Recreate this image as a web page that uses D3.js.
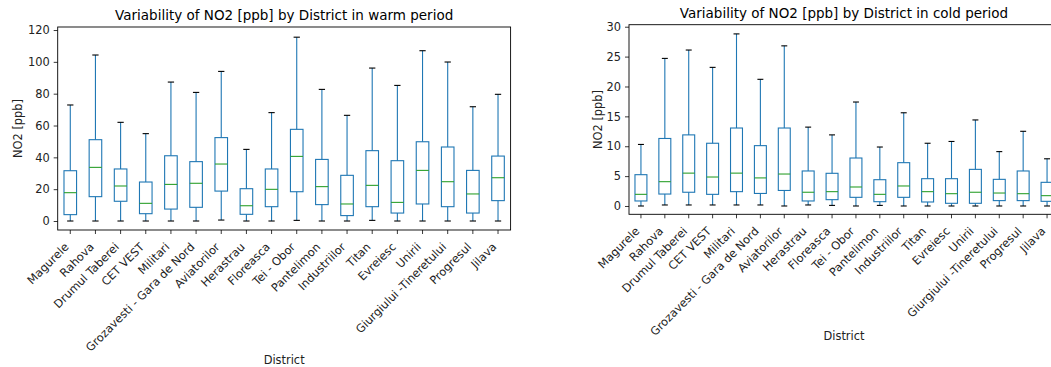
<!DOCTYPE html>
<html>
<head>
  <meta charset="utf-8">
  <title>NO2 by District</title>
  <script src="https://d3js.org/d3.v7.min.js"></script>
  <style>
    html, body { margin: 0; padding: 0; background: #fff; overflow: hidden; }
    svg { display: block; }
    svg text { font-family: "DejaVu Sans", sans-serif; }
  </style>
</head>
<body>
  <div id="chart"></div>
  <script>
    const districts = ["Magurele", "Rahova", "Drumul Taberei", "CET VEST", "Militari",
      "Grozavesti - Gara de Nord", "Aviatorilor", "Herastrau", "Floreasca", "Tei - Obor",
      "Pantelimon", "Industriilor", "Titan", "Evreiesc", "Unirii",
      "Giurgiului -Tineretului", "Progresul", "Jilava"];

    // warm period: whisker low, Q1, median, Q3, whisker high
    const warmLow    = [0, 0, 0, 0, 0, 0, 0.6, 0, 0, 0.4, 0, 0, 0.4, 0, 0, 0, 0, 0];
    const warmQ1     = [4.0, 15.3, 12.4, 4.6, 7.5, 8.6, 18.8, 4.2, 9.0, 18.4, 10.3, 3.4, 9.0, 5.0, 10.7, 9.0, 5.0, 12.8];
    const warmMedian = [17.8, 33.7, 22.0, 11.1, 23.0, 23.7, 35.8, 9.6, 19.9, 40.6, 21.6, 10.7, 22.4, 11.7, 31.8, 24.7, 17.0, 27.2];
    const warmQ3     = [31.6, 51.1, 32.7, 24.5, 41.0, 37.3, 52.4, 20.3, 32.7, 57.6, 38.7, 28.7, 44.2, 37.9, 49.8, 46.5, 31.8, 40.8];
    const warmHigh   = [72.9, 104.3, 62.0, 54.9, 87.3, 80.8, 94.0, 45.0, 68.1, 115.5, 82.7, 66.4, 96.1, 85.2, 107.0, 99.9, 71.8, 79.6];

    // cold period
    const coldLow    = [0, 0.17, 0.17, 0.17, 0.17, 0.17, 0, 0.17, 0.1, 0, 0.1, 0, 0, 0, 0, 0, 0, 0];
    const coldQ1     = [0.84, 2.0, 2.3, 1.95, 2.4, 2.1, 2.6, 0.84, 1.06, 1.45, 0.72, 1.45, 0.67, 0.45, 0.45, 0.9, 0.9, 0.78];
    const coldMedian = [1.95, 4.07, 5.5, 4.85, 5.5, 4.7, 5.35, 2.3, 2.4, 3.18, 1.95, 3.35, 2.4, 2.06, 2.3, 2.17, 2.06, 1.73];
    const coldQ3     = [5.24, 11.3, 11.9, 10.5, 13.05, 10.1, 13.05, 5.86, 5.47, 8.03, 4.4, 7.25, 4.57, 4.57, 6.13, 4.46, 5.86, 3.96];
    const coldHigh   = [10.3, 24.7, 26.1, 23.2, 28.8, 21.2, 26.8, 13.2, 11.9, 17.4, 9.87, 15.6, 10.5, 10.8, 14.4, 9.1, 12.5, 7.9];

    const warmTicks = [0, 20, 40, 60, 80, 100, 120];
    const coldTicks = [0, 5, 10, 15, 20, 25, 30];

    const tickFont = 11.4;
    const titleFont = 13.5;
    const lw = 1.1;

    const svg = d3.select("#chart").append("svg")
      .attr("width", 1051)
      .attr("height", 367);

    function drawPanel(p) {
      const g = svg.append("g");
      const stats = districts.map((d, i) => ({
        name: d, lo: p.low[i], q1: p.q1[i], med: p.med[i], q3: p.q3[i], hi: p.high[i]
      }));

      const x = d3.scaleBand().domain(districts).range([p.left, p.right]).padding(0);
      const y = d3.scaleLinear().domain(p.yDomain).range([p.bottom, p.top]);
      const bw = x.bandwidth() * 0.5;
      const cx = d => x(d.name) + x.bandwidth() / 2;

      // y axis
      const yAxis = g.append("g")
        .attr("transform", "translate(" + p.left + ",0)")
        .call(d3.axisLeft(y).tickValues(p.ticks).tickSize(4).tickPadding(4).tickFormat(d3.format("d")));
      yAxis.select(".domain").remove();
      yAxis.selectAll("text").style("font-size", tickFont + "px").attr("fill", "#222");
      yAxis.selectAll("line").attr("stroke", "#222").attr("stroke-width", 0.9);

      // x axis
      const xAxis = g.append("g")
        .attr("transform", "translate(0," + p.bottom + ")")
        .call(d3.axisBottom(x).tickSize(4).tickPadding(4));
      xAxis.select(".domain").remove();
      xAxis.selectAll("line").attr("stroke", "#222").attr("stroke-width", 0.9);
      xAxis.selectAll("text")
        .style("font-size", tickFont + "px")
        .attr("fill", "#222")
        .attr("text-anchor", "end")
        .attr("y", 0)
        .attr("dy", 0)
        .attr("transform", "translate(-0.8,17.6) rotate(-45)");

      // whiskers
      g.selectAll(".whisk-lo").data(stats).enter().append("line")
        .attr("x1", cx).attr("x2", cx)
        .attr("y1", d => y(d.q1)).attr("y2", d => y(d.lo))
        .attr("stroke", "#1f77b4").attr("stroke-width", lw);
      g.selectAll(".whisk-hi").data(stats).enter().append("line")
        .attr("x1", cx).attr("x2", cx)
        .attr("y1", d => y(d.q3)).attr("y2", d => y(d.hi))
        .attr("stroke", "#1f77b4").attr("stroke-width", lw);

      // caps
      ["lo", "hi"].forEach(k => {
        g.selectAll(".cap-" + k).data(stats).enter().append("line")
          .attr("x1", d => cx(d) - bw / 4).attr("x2", d => cx(d) + bw / 4)
          .attr("y1", d => y(d[k])).attr("y2", d => y(d[k]))
          .attr("stroke", "#000").attr("stroke-width", lw);
      });

      // boxes
      g.selectAll(".box").data(stats).enter().append("rect")
        .attr("x", d => cx(d) - bw / 2)
        .attr("width", bw)
        .attr("y", d => y(d.q3))
        .attr("height", d => y(d.q1) - y(d.q3))
        .attr("fill", "none")
        .attr("stroke", "#1f77b4").attr("stroke-width", lw);

      // medians
      g.selectAll(".median").data(stats).enter().append("line")
        .attr("x1", d => cx(d) - bw / 2).attr("x2", d => cx(d) + bw / 2)
        .attr("y1", d => y(d.med)).attr("y2", d => y(d.med))
        .attr("stroke", "#2ca02c").attr("stroke-width", lw);

      // frame
      g.append("rect")
        .attr("x", p.left).attr("y", p.top)
        .attr("width", p.right - p.left).attr("height", p.bottom - p.top)
        .attr("fill", "none").attr("stroke", "#000").attr("stroke-width", 0.9);

      g.append("text")
        .attr("x", (p.left + p.right) / 2).attr("y", p.top - 6.8)
        .attr("text-anchor", "middle")
        .style("font-size", titleFont + "px")
        .text(p.title);

      g.append("text")
        .attr("x", (p.left + p.right) / 2).attr("y", p.xLabelY)
        .attr("text-anchor", "middle")
        .style("font-size", tickFont + "px")
        .attr("fill", "#222")
        .text("District");

      g.append("text")
        .attr("transform", "translate(" + p.yLabelX + "," + (p.top + p.bottom) / 2 + ") rotate(-90)")
        .attr("text-anchor", "middle")
        .style("font-size", tickFont + "px")
        .attr("fill", "#222")
        .text("NO2 [ppb]");
    }

    drawPanel({
      left: 57.7, right: 510.6, top: 27, bottom: 230,
      yDomain: [-5.65, 121.9], ticks: warmTicks,
      low: warmLow, q1: warmQ1, med: warmMedian, q3: warmQ3, high: warmHigh,
      title: "Variability of NO2 [ppb] by District in warm period",
      xLabelY: 364, yLabelX: 21.5
    });

    drawPanel({
      left: 629, right: 1059, top: 24.7, bottom: 214.3,
      yDomain: [-1.39, 30.34], ticks: coldTicks,
      low: coldLow, q1: coldQ1, med: coldMedian, q3: coldQ3, high: coldHigh,
      title: "Variability of NO2 [ppb] by District in cold period",
      xLabelY: 340, yLabelX: 601.8
    });
  </script>
</body>
</html>
